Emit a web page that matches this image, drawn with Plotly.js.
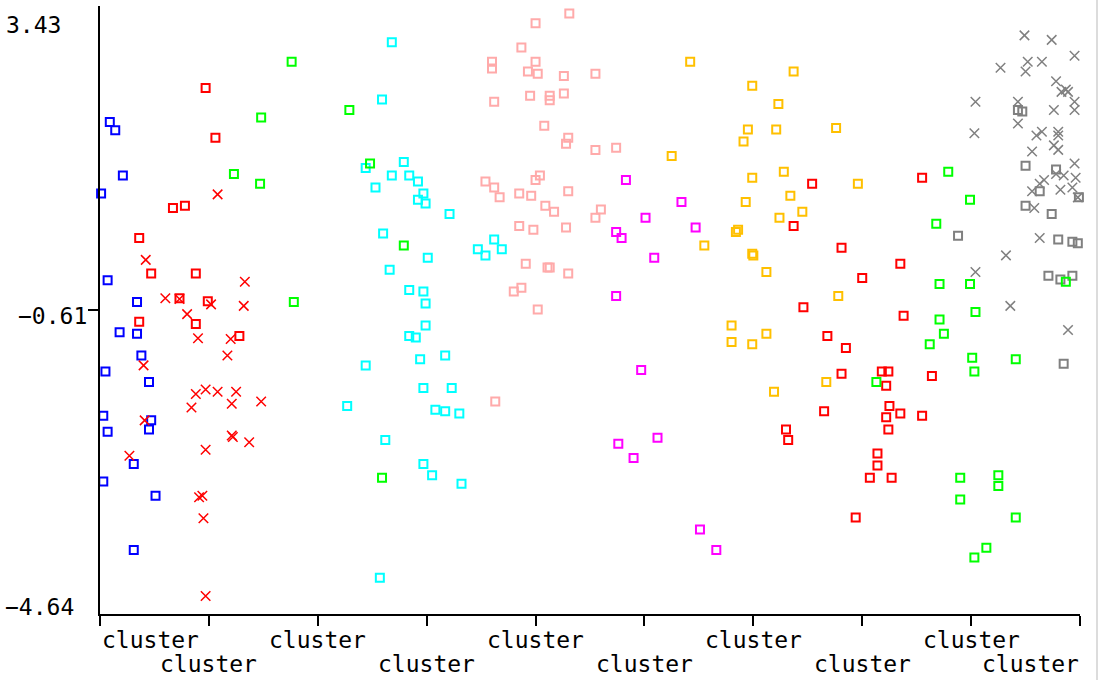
<!DOCTYPE html>
<html>
<head>
<meta charset="utf-8">
<script src="https://cdn.plot.ly/plotly-3.0.1.min.js"></script>
<style>
html,body{margin:0;padding:0;background:#fff;overflow:hidden;}
#chart{width:1098px;height:680px;}
#edge{position:absolute;left:1096px;top:0;width:2px;height:680px;background:#dcdcdc;}
</style>
</head>
<body>
<div id="chart"></div>
<div id="edge"></div>
<script>
// ---- data ----
var tickPositions = [0,1,2,3,4,5,6,7,8,9];
var tickLabels = ["cluster","cluster","cluster","cluster","cluster","cluster","cluster","cluster","cluster","cluster"];
var yTickValues = [3.43, -0.61, -4.64];
var yTickLabels = ["3.43", "\u22120.61", "\u22124.64"];

var blueX = [0.09,0.14,0.21,0.01,0.07,0.34,0.18,0.34,0.38,0.05,0.45,0.03,0.47,0.45,0.07,0.31,0.03,0.51,0.31];
var blueY = [1.89,1.78,1.18,0.94,-0.21,-0.50,-0.90,-0.92,-1.21,-1.42,-1.56,-2.01,-2.07,-2.19,-2.22,-2.65,-2.88,-3.07,-3.79];

var redSqX = [0.97,1.06,0.67,0.78,0.36,0.47,0.88,0.73,0.99,0.36,0.88,1.28,
  6.54,6.37,6.81,7.00,6.46,6.68,6.85,6.81,7.18,7.24,7.22,6.65,7.25,7.35,7.55,7.22,7.24,6.30,6.32,7.14,7.14,7.07,7.27,6.94,7.55,7.35,7.38,7.64];
var redSqY = [2.34,1.68,0.75,0.78,0.35,-0.12,-0.12,-0.45,-0.49,-0.76,-0.79,-0.95,
  1.07,0.51,0.22,-0.18,-0.57,-0.95,-1.11,-1.45,-1.42,-1.42,-1.61,-1.95,-1.88,-1.98,-2.01,-2.03,-2.19,-2.19,-2.33,-2.51,-2.67,-2.83,-2.83,-3.36,1.15,0.01,-0.68,-1.48];

var redXX = [1.08,0.42,1.33,0.60,0.73,1.02,1.32,0.80,0.90,1.20,0.40,1.17,0.88,0.97,1.08,1.25,0.84,1.21,1.48,0.41,1.21,1.22,1.37,0.27,0.97,0.91,0.94,0.95,0.97];
var redXY = [0.93,0.06,-0.23,-0.45,-0.46,-0.53,-0.55,-0.66,-0.98,-0.99,-1.34,-1.21,-1.72,-1.66,-1.69,-1.69,-1.90,-1.85,-1.82,-2.07,-2.27,-2.29,-2.36,-2.54,-2.46,-3.09,-3.07,-3.37,-4.40];

var greenX = [1.76,1.48,1.23,1.47,1.78,2.29,2.48,2.79,2.59,7.13,7.79,7.99,7.68,7.71,7.99,8.04,7.71,7.75,7.62,8.01,8.03,8.41,7.90,8.25,8.25,7.90,8.41,8.14,8.03,8.87];
var greenY = [2.69,1.95,1.20,1.07,-0.50,2.05,1.34,0.25,-2.83,-1.56,1.23,0.86,0.54,-0.26,-0.26,-0.63,-0.73,-0.92,-1.06,-1.24,-1.42,-1.26,-2.83,-2.80,-2.94,-3.12,-3.36,-3.76,-3.89,-0.23];

var cyanX = [2.68,2.59,2.44,2.79,2.68,2.84,2.92,2.53,2.97,2.92,2.99,3.21,2.60,3.01,2.66,2.84,2.97,2.99,2.99,2.84,2.90,3.62,3.47,3.54,3.69,2.44,2.94,3.17,2.97,3.23,2.27,3.08,3.17,3.30,2.62,2.97,3.05,3.32,2.57];
var cyanY = [2.95,2.19,1.28,1.36,1.18,1.18,1.10,1.02,0.94,0.86,0.81,0.67,0.41,0.09,-0.07,-0.34,-0.36,-0.52,-0.81,-0.95,-0.97,0.33,0.20,0.12,0.20,-1.34,-1.26,-1.21,-1.64,-1.64,-1.88,-1.93,-1.95,-1.98,-2.33,-2.65,-2.80,-2.91,-4.16];

var pinkX = [4.31,4.00,3.87,3.60,3.60,4.00,3.93,4.02,4.26,4.55,3.95,4.13,4.13,4.26,3.62,4.08,4.30,4.28,4.55,3.54,3.62,3.67,4.04,4.00,3.85,3.96,4.30,4.09,4.17,4.55,4.60,3.85,3.98,4.28,3.91,4.11,4.13,4.30,3.80,3.87,4.02,3.63,4.74];
var pinkY = [3.33,3.20,2.88,2.69,2.60,2.69,2.56,2.53,2.50,2.53,2.24,2.24,2.18,2.27,2.16,1.84,1.68,1.60,1.52,1.10,1.02,0.89,1.18,1.12,0.94,0.91,0.97,0.78,0.70,0.62,0.73,0.51,0.46,0.49,0.01,-0.04,-0.04,-0.12,-0.36,-0.31,-0.60,-1.82,1.55];

var magentaX = [4.83,5.34,5.01,5.47,4.74,4.79,5.09,4.74,4.97,4.76,4.90,5.12,5.51,5.66];
var magentaY = [1.12,0.83,0.62,0.49,0.43,0.35,0.09,-0.42,-1.40,-2.38,-2.57,-2.30,-3.52,-3.79];

var goldX = [5.42,6.37,5.99,6.23,5.95,6.21,6.76,5.91,5.25,5.99,6.28,6.96,6.34,5.93,6.45,6.24,5.84,5.86,5.55,5.99,6.00,6.12,6.78,5.80,6.12,5.80,5.99,6.67,6.19];
var goldY = [2.69,2.56,2.37,2.13,1.79,1.79,1.81,1.63,1.44,1.15,1.23,1.07,0.91,0.83,0.70,0.62,0.43,0.46,0.25,0.14,0.12,-0.10,-0.42,-0.81,-0.92,-1.03,-1.06,-1.56,-1.69];

var graySqX = [8.43,8.47,8.50,8.78,8.63,8.50,8.99,8.74,7.88,8.80,8.93,8.98,8.71,8.82,8.93,8.85];
var graySqY = [2.05,2.03,1.31,1.26,0.97,0.78,0.89,0.67,0.38,0.33,0.30,0.28,-0.15,-0.20,-0.15,-1.32];

var grayXX = [8.49,8.74,8.95,8.27,8.52,8.65,8.50,8.78,8.83,8.87,8.89,8.95,8.04,8.43,8.76,8.95,8.43,8.03,8.60,8.65,8.80,8.80,8.76,8.80,8.56,8.95,8.78,8.85,8.96,8.67,8.63,8.56,8.82,8.93,8.98,8.58,8.63,8.32,8.04,8.36,8.89];
var grayXY = [3.04,2.98,2.77,2.61,2.69,2.69,2.56,2.43,2.29,2.32,2.29,2.16,2.16,2.16,2.05,2.05,1.87,1.74,1.71,1.76,1.76,1.71,1.58,1.52,1.50,1.34,1.20,1.18,1.15,1.12,1.07,0.97,0.99,1.02,0.89,0.75,0.35,0.12,-0.10,-0.55,-0.87];

// ---- traces ----
function sq(x, y, color) {
  return {type:'scatter', mode:'markers', x:x, y:y, cliponaxis:false, hoverinfo:'skip',
    marker:{symbol:'square-open', size:8, color:color, line:{color:color, width:2}}};
}
function cross(x, y, color) {
  return {type:'scatter', mode:'markers', x:x, y:y, cliponaxis:false, hoverinfo:'skip',
    marker:{symbol:'x-thin-open', size:9.5, color:color, line:{color:color, width:1.5}}};
}
var data = [
  sq(blueX, blueY, '#0000ff'),
  sq(redSqX, redSqY, '#ff0000'),
  sq(cyanX, cyanY, '#00ffff'),
  sq(pinkX, pinkY, '#ffaaaa'),
  sq(magentaX, magentaY, '#ff00ff'),
  sq(goldX, goldY, '#ffc000'),
  sq(graySqX, graySqY, '#808080'),
  sq(greenX, greenY, '#00ff00'),
  cross(redXX, redXY, '#ff0000'),
  cross(grayXX, grayXY, '#808080')
];

// ---- labels ----
var FONT = {family:'DejaVu Sans Mono', size:23, color:'#000'};
var annotations = [];
tickPositions.forEach(function(t, i) {
  var lower = (i % 2 === 1);
  var anchor = 'center', xs = 0;
  if (i === 0) { anchor = 'left'; }
  if (i === tickPositions.length - 1) { anchor = 'right'; xs = 1; }
  annotations.push({xref:'x', yref:'paper', x:t, y:0, text:tickLabels[i], showarrow:false,
    xanchor:anchor, yanchor:'top', xshift:xs, yshift: lower ? -34.7 : -10.7, borderpad:1, font:FONT});
});
// y labels
annotations.push({xref:'paper', yref:'y', x:0, y:yTickValues[0], text:yTickLabels[0], showarrow:false,
  xanchor:'left', yanchor:'top', xshift:-96, yshift:-3.7, borderpad:1, font:FONT});
annotations.push({xref:'paper', yref:'y', x:0, y:yTickValues[1], text:yTickLabels[1], showarrow:false,
  xanchor:'right', yanchor:'top', xshift:-11.5, yshift:9.3, borderpad:1, font:FONT});
annotations.push({xref:'paper', yref:'y', x:0, y:yTickValues[2], text:yTickLabels[2], showarrow:false,
  xanchor:'left', yanchor:'top', xshift:-97, yshift:22.3, borderpad:1, font:FONT});

var layout = {
  width:1098, height:680, autosize:false,
  margin:{l:100, r:18, t:6, b:66, pad:0},
  paper_bgcolor:'#fff', plot_bgcolor:'#fff',
  showlegend:false,
  font:FONT,
  xaxis:{range:[0,9], tickvals:tickPositions, showticklabels:false, ticks:'outside', ticklen:10, tickwidth:2,
    tickcolor:'#000', showline:true, linecolor:'#000', linewidth:2, showgrid:false, zeroline:false, fixedrange:true},
  yaxis:{range:[yTickValues[2], yTickValues[0]], tickvals:[yTickValues[1]], showticklabels:false, ticks:'outside', ticklen:10, tickwidth:2,
    tickcolor:'#000', showline:true, linecolor:'#000', linewidth:2, showgrid:false, zeroline:false, fixedrange:true},
  annotations:annotations
};
Plotly.newPlot('chart', data, layout, {staticPlot:true, displayModeBar:false});
</script>
</body>
</html>
